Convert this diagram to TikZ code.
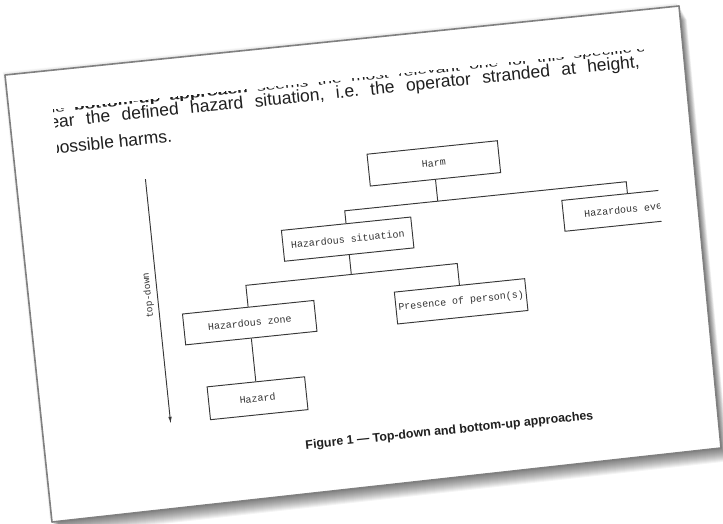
\documentclass[tikz,border=0pt]{standalone}
\usepackage{graphicx}
\usepackage{fontspec}
\setmainfont{Liberation Sans}
\newfontfamily\diagfont{Liberation Mono}
\usetikzlibrary{arrows.meta}
\frenchspacing
\begin{document}
\begin{tikzpicture}[x=1pt,y=1pt,
  box/.style={draw=black!78, line width=0.95pt, inner sep=0pt, minimum height=31pt,
    font=\diagfont\fontsize{10}{12}\selectfont, text=black!80, transform shape},
  conn/.style={draw=black!78, line width=0.95pt},
  bodytext/.style={anchor=base west, inner sep=0pt, font=\frenchspacing\fontsize{17.5}{20}\selectfont,
    text=black!88, transform shape},
  shadowlayer/.style={fill=black, opacity=0.045},
  pageedge/.style={fill=white, draw=black!50, line width=1.6pt, line join=round}]
\useasboundingbox (0,0) rectangle (723,-524);
\fill[white] (0,0) rectangle (723,-524);
% soft shadow all round
\foreach \i in {1,...,6}{
  \fill[black, opacity=0.02, shift={(-0.4*\i,0.5*\i)}] (5,-75)--(679,-6)--(721,-448)--(52,-522)--cycle;
}
% drop shadow towards the lower right
\foreach \i in {1,...,14}{
  \fill[shadowlayer, shift={(0.55*\i,-0.95*\i)}] (5,-75)--(679,-6)--(721,-448)--(52,-522)--cycle;
}
% the page
\path[pageedge] (5,-75)--(679,-6)--(721,-448)--(52,-522)--cycle;

\begin{scope}[shift={(5,-75)}, rotate=5.9]
  \clip (44,-38.8) rectangle (638,-445);
  % body text
  \node[bodytext] (l1) at (31.6,-42.4)
    {\scalebox{1}[0.62]{\makebox[594pt][s]{the \textbf{bottom-up approach} seems the most relevant one for this specific}\ case}};
  \node[bodytext] (l2) at (29.4,-57.6)
    {\makebox[603pt][s]{near the defined hazard situation, i.e. the operator stranded at height,}};
  \node[bodytext] (l3) at (37,-83.5) {possible harms.};

  % diagram boxes
  \node[box, minimum width=131pt, minimum height=32pt] (harm) at (417.5,-132) {Harm};
  \node[box, minimum width=132pt] (hazev) at (607,-197.5) {Hazardous event};
  \node[box, minimum width=130pt] (hazsit) at (324,-198.5) {Hazardous situation};
  \node[box, minimum width=131pt, minimum height=32pt] (pres) at (430.5,-272) {Presence of person(s)};
  \node[box, minimum width=132pt] (zone) at (218,-271.5) {Hazardous zone};
  \node[box, minimum width=98pt, minimum height=33pt] (hazard) at (218,-347.5) {Hazard};

  % connectors
  \coordinate (bus1) at (0,-170);
  \coordinate (bus2) at (0,-234);
  \draw[conn] (harm.south) -- (harm.south |- bus1);
  \draw[conn] (hazsit.north) -- (hazsit.north |- bus1) -- (hazev.north |- bus1) -- (hazev.north);
  \draw[conn] (hazsit.south) -- (hazsit.south |- bus2);
  \draw[conn] (zone.north) -- (zone.north |- bus2) -- (pres.north |- bus2) -- (pres.north);
  \draw[conn] (zone.south) -- (hazard.north);

  % top-down arrow
  \coordinate (tdtop) at (129,-118);
  \coordinate (tdbot) at (129,-364);
  \draw[conn, -{Latex[length=7pt,width=3.5pt]}] (tdtop) -- (tdbot);
  \node[font=\diagfont\fontsize{9.5}{11}\selectfont, text=black!80, rotate=90,
        transform shape, inner sep=0pt] (td) at (120,-234) {top-down};

  % caption
  \node[anchor=base, inner sep=0pt, font=\bfseries\fontsize{12.4}{14}\selectfont,
        text=black!88, transform shape] (cap) at (405.5,-403)
    {Figure 1 — Top-down and bottom-up approaches};
\end{scope}
\end{tikzpicture}
\end{document}
